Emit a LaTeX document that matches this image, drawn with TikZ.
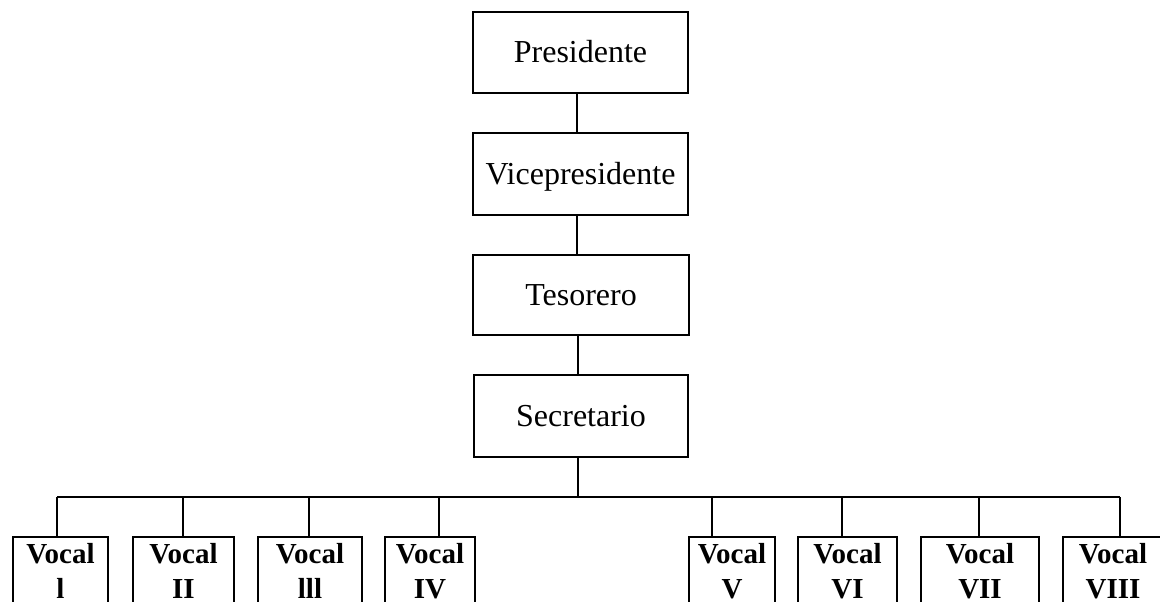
\documentclass[tikz,border=0pt]{standalone}
\usepackage{fontspec}
\setmainfont{Liberation Serif}
\begin{document}
\begin{tikzpicture}[x=1pt,y=-1pt,line width=1.6pt,
  topbox/.style={draw,rectangle,inner sep=0pt,font=\fontsize{32}{38}\selectfont,
    text height=21pt,text depth=0pt},
  vbox/.style={draw,rectangle,anchor=north,inner xsep=0pt,inner ysep=7pt,align=center,
    font=\bfseries\fontsize{29}{35}\selectfont,text height=55pt,text depth=40pt},
  link/.style={line width=1.6pt}]
\useasboundingbox (0,0) rectangle (1160,602);
\clip (0,0) rectangle (1160,602);
\node[topbox,minimum width=215pt,minimum height=81pt] (pres) at (580.5,52.5) {Presidente};
\node[topbox,minimum width=215pt,minimum height=82pt] (vice) at (580.5,174) {Vicepresidente};
\node[topbox,minimum width=216pt,minimum height=80pt] (teso) at (581,295) {Tesorero};
\node[topbox,minimum width=214pt,minimum height=82pt] (secr) at (581,416) {Secretario};
\node[vbox,minimum width=95pt]  (v1) at (60.5,536) {Vocal\\l};
\node[vbox,minimum width=101pt] (v2) at (183.5,536) {Vocal\\II};
\node[vbox,minimum width=104pt] (v3) at (310,536) {Vocal\\lll};
\node[vbox,minimum width=90pt]  (v4) at (430,536) {Vocal\\IV};
\node[vbox,minimum width=86pt]  (v5) at (732,536) {Vocal\\V};
\node[vbox,minimum width=99pt]  (v6) at (847.5,536) {Vocal\\VI};
\node[vbox,minimum width=118pt] (v7) at (980,536) {Vocal\\VII};
\node[vbox,minimum width=100pt] (v8) at (1113,536) {Vocal\\VIII};
\coordinate (bus) at (578,497);
\coordinate (d1) at (57,497);
\coordinate (d2) at (183,497);
\coordinate (d3) at (309,497);
\coordinate (d4) at (439,497);
\coordinate (d5) at (712,497);
\coordinate (d6) at (842,497);
\coordinate (d7) at (979,497);
\coordinate (d8) at (1120,497);
\draw[link] (pres.south -| 577,0) -- (vice.north -| 577,0);
\draw[link] (vice.south -| 577,0) -- (teso.north -| 577,0);
\draw[link] (teso.south -| 578,0) -- (secr.north -| 578,0);
\draw[link] (secr.south -| bus) -- (bus);
\draw[link] (d1) -- (d8);
\foreach \i in {1,...,8} {\draw[link] (d\i) -- (v\i.north -| d\i);}
\end{tikzpicture}
\end{document}
